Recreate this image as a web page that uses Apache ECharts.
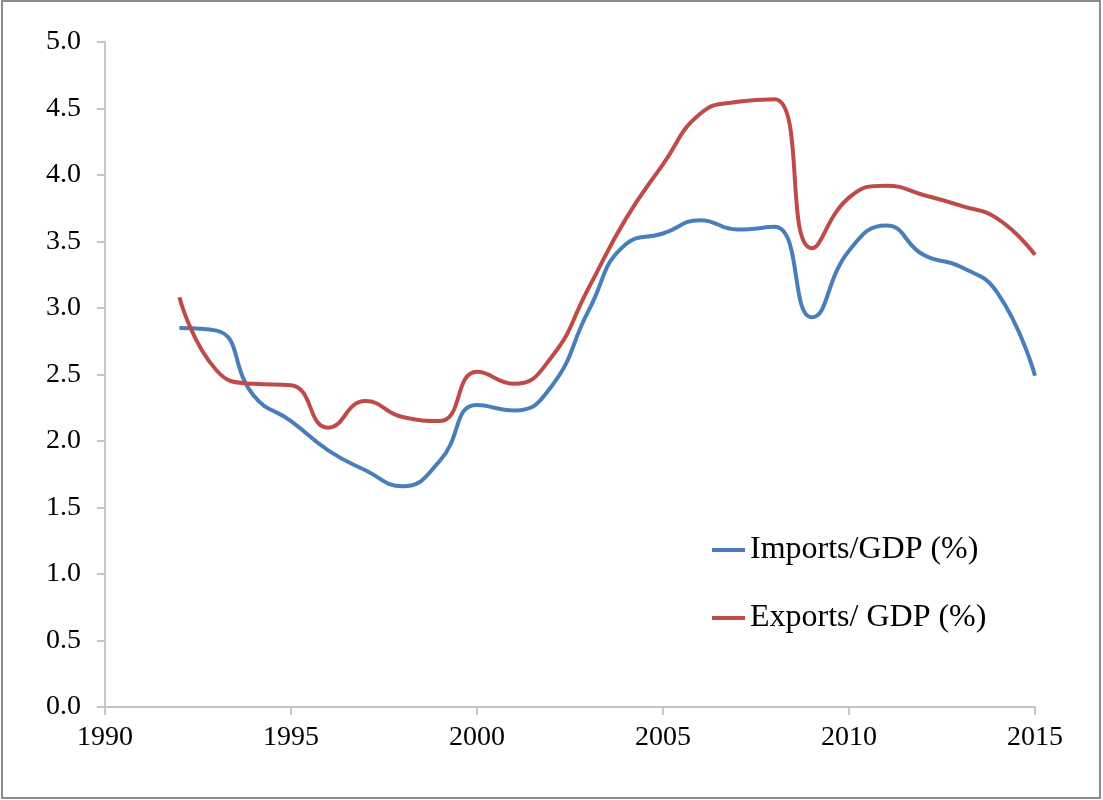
<!DOCTYPE html>
<html>
<head>
<meta charset="utf-8">
<script src="https://cdn.jsdelivr.net/npm/echarts@6/dist/echarts.min.js"></script>
<style>
  html, body { margin: 0; padding: 0; background: #fff; }
  #chart { width: 1103px; height: 800px; }
</style>
</head>
<body>
<div id="chart"></div>
<script>
const years = [1992, 1993, 1994, 1995, 1996, 1997, 1998, 1999, 2000, 2001, 2002, 2003,
  2004, 2005, 2006, 2007, 2008, 2009, 2010, 2011, 2012, 2013, 2014, 2015]
const importsGdp = [2.85, 2.83, 2.34, 2.15, 1.93, 1.78, 1.66, 1.85, 2.27, 2.23, 2.41, 2.98,
  3.48, 3.56, 3.66, 3.59, 3.61, 2.93, 3.43, 3.62, 3.40, 3.31, 3.11, 2.49]
const exportsGdp = [3.08, 2.53, 2.43, 2.42, 2.10, 2.30, 2.18, 2.15, 2.52, 2.43, 2.63, 3.15,
  3.67, 4.08, 4.46, 4.55, 4.57, 3.45, 3.83, 3.92, 3.85, 3.77, 3.67, 3.40]
const seriesNames = ['Imports/GDP (%)', 'Exports/ GDP (%)']
const seriesColors = ['#4A7EBB', '#BE4B48']

const serif = '"Liberation Serif", "DejaVu Serif", serif'
const pairs = vals => years.map((y, i) => [y, vals[i]])

const chart = echarts.init(document.getElementById('chart'))
chart.setOption({
  animation: false,
  backgroundColor: '#fff',
  grid: { left: 105, right: 68, top: 42, bottom: 93 },
  graphic: [{
    type: 'rect',
    shape: { x: 2, y: 1, width: 1098, height: 797 },
    style: { fill: 'none', stroke: '#8c8c8c', lineWidth: 2 },
    silent: true
  }],
  legend: {
    orient: 'vertical',
    left: 707,
    top: 527,
    icon: 'rect',
    itemWidth: 33,
    itemHeight: 4,
    itemGap: 32,
    textStyle: { fontFamily: serif, fontSize: 32, color: '#000', lineHeight: 36 },
    data: seriesNames
  },
  xAxis: {
    type: 'value',
    min: 1990,
    max: 2015,
    interval: 5,
    axisLine: { lineStyle: { color: '#c6c6c6', width: 2 } },
    axisTick: { show: true, length: 8, lineStyle: { color: '#c6c6c6', width: 2 } },
    axisLabel: {
      fontFamily: serif, fontSize: 28, color: '#000', margin: 17,
      formatter: v => String(v)
    },
    splitLine: { show: false }
  },
  yAxis: {
    type: 'value',
    min: 0,
    max: 5,
    interval: 0.5,
    axisLine: { show: true, lineStyle: { color: '#c6c6c6', width: 2 } },
    axisTick: { show: true, length: 8, lineStyle: { color: '#c6c6c6', width: 2 } },
    axisLabel: {
      fontFamily: serif, fontSize: 28, color: '#000', margin: 24,
      formatter: v => v.toFixed(1)
    },
    splitLine: { show: false }
  },
  series: [
    {
      name: seriesNames[0],
      type: 'line',
      data: pairs(importsGdp),
      smooth: 0.5,
      symbol: 'none',
      color: seriesColors[0],
      lineStyle: { width: 4, color: seriesColors[0] }
    },
    {
      name: seriesNames[1],
      type: 'line',
      data: pairs(exportsGdp),
      smooth: 0.5,
      symbol: 'none',
      color: seriesColors[1],
      lineStyle: { width: 4, color: seriesColors[1] }
    }
  ]
})
</script>
</body>
</html>
